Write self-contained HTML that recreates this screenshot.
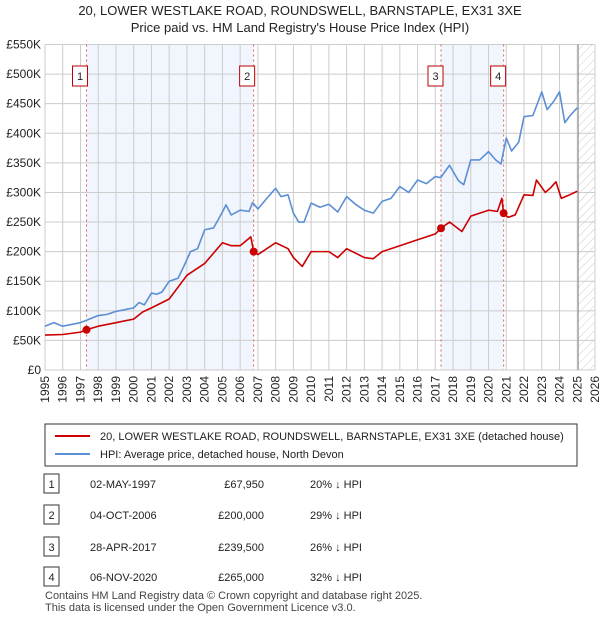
<!DOCTYPE html>
<html><head><meta charset="utf-8"><style>
body{margin:0;background:#fff;font-family:"Liberation Sans",sans-serif;}
#wrap{position:relative;width:600px;height:620px;overflow:hidden}
.t{position:absolute;font-size:12px;color:#222}
</style></head><body><div id="wrap">
<svg id="chart" width="600" height="620" style="position:absolute;left:0;top:0">
<defs><pattern id="hatch" width="6" height="6" patternUnits="userSpaceOnUse" patternTransform="rotate(45)"><line x1="0" y1="0" x2="0" y2="6" stroke="#ccc" stroke-width="1"/></pattern></defs>
<text x="300" y="15" text-anchor="middle" font-size="13" fill="#222">20, LOWER WESTLAKE ROAD, ROUNDSWELL, BARNSTAPLE, EX31 3XE</text>
<text x="300" y="32" text-anchor="middle" font-size="13" fill="#222">Price paid vs. HM Land Registry's House Price Index (HPI)</text>
<g id="plot"></g>
<rect x="45" y="424" width="532" height="42" fill="#fff" stroke="#333"/>
<line x1="55" y1="436" x2="90" y2="436" stroke="#cc0000" stroke-width="2"/>
<text x="100" y="440" font-size="11" fill="#222">20, LOWER WESTLAKE ROAD, ROUNDSWELL, BARNSTAPLE, EX31 3XE (detached house)</text>
<line x1="55" y1="454" x2="90" y2="454" stroke="#5b8fd6" stroke-width="2"/>
<text x="100" y="458" font-size="11" fill="#222">HPI: Average price, detached house, North Devon</text>
<g id="table"></g>
<text x="45" y="599" font-size="11" fill="#444">Contains HM Land Registry data © Crown copyright and database right 2025.</text>
<text x="45" y="611" font-size="11" fill="#444">This data is licensed under the Open Government Licence v3.0.</text>
</svg>
<script>
const hpiYears=[1995,1995.5,1996,1996.5,1997,1997.5,1998,1998.5,1999,1999.5,2000,2000.3,2000.6,2001,2001.3,2001.6,2002,2002.5,2002.9,2003.2,2003.6,2004,2004.5,2005,2005.2,2005.5,2006,2006.5,2006.7,2007,2007.5,2008,2008.3,2008.7,2009,2009.3,2009.6,2010,2010.5,2011,2011.5,2012,2012.5,2013,2013.5,2014,2014.5,2015,2015.5,2016,2016.5,2017,2017.3,2017.8,2018.3,2018.6,2019,2019.5,2020,2020.4,2020.7,2021,2021.3,2021.7,2022,2022.5,2023,2023.3,2023.7,2024,2024.3,2024.6,2025];
const hpiValues=[74,80,74,77,80,86,92,94,99,102,105,114,110,130,128,132,150,155,180,200,205,237,240,267,279,262,270,268,283,272,290,307,293,296,265,250,250,282,275,280,267,293,280,270,265,285,290,310,300,321,315,327,325,346,320,313,355,355,369,355,348,392,370,385,428,430,470,440,455,470,418,430,443];
const ppYears=[1995,1996,1997,1997.34,1998,1999,2000,2000.5,2001,2002,2003,2004,2005,2005.5,2006,2006.6,2006.76,2007,2008,2008.7,2009,2009.5,2010,2011,2011.5,2012,2013,2013.5,2014,2015,2016,2016.5,2017,2017.32,2017.8,2018.5,2019,2020,2020.5,2020.75,2020.85,2021.1,2021.5,2022,2022.5,2022.7,2023.2,2023.5,2023.8,2024.1,2024.5,2025];
const ppValues=[59,60,64,68,74,80,86,98,105,120,160,180,215,210,210,225,200,195,215,205,190,175,200,200,190,205,190,188,200,210,220,225,230,239.5,250,234,260,270,268,290,265,258,262,296,295,321,300,308,318,290,295,302];
const saleYears=[1997.34,2006.76,2017.32,2020.85];
const saleValues=[67.95,200,239.5,265];
const saleLabels=["1","2","3","4"];
const yTicks=[0,50,100,150,200,250,300,350,400,450,500,550];
const yTickLabels=["£0","£50K","£100K","£150K","£200K","£250K","£300K","£350K","£400K","£450K","£500K","£550K"];
const rowDates=["02-MAY-1997","04-OCT-2006","28-APR-2017","06-NOV-2020"];
const rowPrices=["£67,950","£200,000","£239,500","£265,000"];
const rowDiffs=["20% ↓ HPI","29% ↓ HPI","26% ↓ HPI","32% ↓ HPI"];

const L=45,R=595,T=44.5,B=370;
const X=y=>L+(y-1995)*(R-L)/31;
const Y=v=>B-v*(B-T)/550;
const NS="http://www.w3.org/2000/svg";
const g=document.getElementById('plot');
function mk(tag,at,parent){const e=document.createElementNS(NS,tag);for(const k in at)e.setAttribute(k,at[k]);(parent||g).appendChild(e);return e;}
// shading
for(const [a,b] of [[0,1],[2,3]]){const r=mk('rect',{x:X(saleYears[a]),y:T,width:X(saleYears[b])-X(saleYears[a]),height:B-T,fill:'#eef3fc',opacity:0.8});

}
const h=mk('rect',{x:X(2025.05),y:T,width:R-X(2025.05),height:B-T,fill:'url(#hatch)'});


// grid
for(let yr=1995;yr<=2026;yr++){const l=mk('line',{x1:X(yr),x2:X(yr),y1:T,y2:B,stroke:'#ccc'});


const t=mk('text',{x:0,y:0,transform:`translate(${X(yr)+4},${B+6}) rotate(-90)`,'text-anchor':'end','font-size':12,fill:'#222'});t.textContent=yr;

}
yTicks.forEach((v,i)=>{const l=mk('line',{x1:L,x2:R,y1:Y(v),y2:Y(v),stroke:'#ccc'});


const t=mk('text',{x:L-4,y:Y(v)+4,'text-anchor':'end','font-size':12,fill:'#222'});t.textContent=yTickLabels[i];

});
const nl=mk('line',{x1:X(2025.05),x2:X(2025.05),y1:T,y2:B,stroke:'#888'});


// sale lines
saleYears.forEach((s,i)=>{const l=mk('line',{x1:X(s),x2:X(s),y1:T,y2:B,stroke:'#e06060','stroke-dasharray':'2,3'});

});
function line(xs,vs,col,name){const p=mk('polyline',{points:xs.map((x,i)=>X(x)+','+Y(vs[i])).join(' '),fill:'none',stroke:col,'stroke-width':1.6,'stroke-linejoin':'round'});

}
line(hpiYears,hpiValues,'#5b8fd6','hpi-line');
line(ppYears,ppValues,'#cc0000','price-paid-line');
saleYears.forEach((s,i)=>{const c=mk('circle',{cx:X(s),cy:Y(saleValues[i]),r:4,fill:'#cc0000'});


const bx=X(s)-10-(i==0||i==1?1:0);
const r=mk('rect',{x:bx-3,y:66,width:15,height:20,fill:'#fff',stroke:'#b00'});


const t=mk('text',{x:bx+4.5,y:80,'text-anchor':'middle','font-size':11,fill:'#222'});t.textContent=saleLabels[i];

});
// table
const tg=document.getElementById('table');
const rowY=[484,515,547,577];
rowY.forEach((y,i)=>{const r=mk('rect',{x:44,y:y-10,width:15,height:19,fill:'#fff',stroke:'#333'},tg);


const n=mk('text',{x:51.5,y:y+4,'text-anchor':'middle','font-size':11,fill:'#222'},tg);n.textContent=saleLabels[i];


const d=mk('text',{x:90,y:y+4,'font-size':11,fill:'#222'},tg);d.textContent=rowDates[i];


const p=mk('text',{x:264,y:y+4,'text-anchor':'end','font-size':11,fill:'#222'},tg);p.textContent=rowPrices[i];


const q=mk('text',{x:310,y:y+4,'font-size':11,fill:'#222'},tg);q.textContent=rowDiffs[i];

});
</script></div></body></html>
